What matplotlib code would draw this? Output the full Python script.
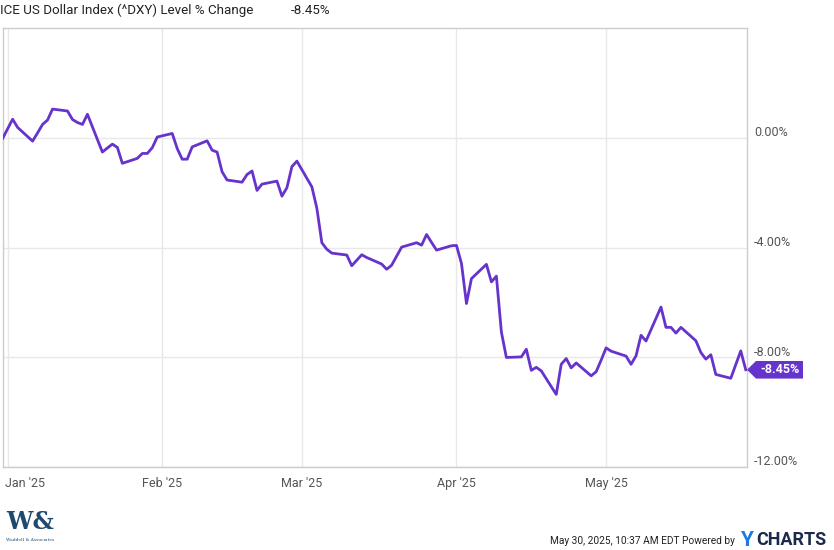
"""
ICE US Dollar Index (^DXY) level % change - YCharts style line chart
"""

#######################################################################################
# Library
import matplotlib
matplotlib.use('Agg')
import matplotlib.pyplot as plt
import matplotlib.dates as mdates
import matplotlib.transforms as mtransforms
import pandas as pd

from matplotlib import font_manager
from matplotlib.patches import Polygon
#######################################################################################

# -------------------------------------------------------------------------------------
# Data
sDates = ['2024-12-31',
          '2025-01-02', '2025-01-03', '2025-01-06', '2025-01-07', '2025-01-08', '2025-01-09',
          '2025-01-10', '2025-01-13', '2025-01-14', '2025-01-15', '2025-01-16', '2025-01-17',
          '2025-01-20', '2025-01-21', '2025-01-22', '2025-01-23', '2025-01-24', '2025-01-27',
          '2025-01-28', '2025-01-29', '2025-01-30', '2025-01-31',
          '2025-02-03', '2025-02-04', '2025-02-05', '2025-02-06', '2025-02-07', '2025-02-10',
          '2025-02-11', '2025-02-12', '2025-02-13', '2025-02-14', '2025-02-17', '2025-02-18',
          '2025-02-19', '2025-02-20', '2025-02-21', '2025-02-24', '2025-02-25', '2025-02-26',
          '2025-02-27', '2025-02-28',
          '2025-03-03', '2025-03-04', '2025-03-05', '2025-03-06', '2025-03-07', '2025-03-10',
          '2025-03-11', '2025-03-12', '2025-03-13', '2025-03-14', '2025-03-17', '2025-03-18',
          '2025-03-19', '2025-03-20', '2025-03-21', '2025-03-24', '2025-03-25', '2025-03-26',
          '2025-03-27', '2025-03-28', '2025-03-31',
          '2025-04-01', '2025-04-02', '2025-04-03', '2025-04-04', '2025-04-07', '2025-04-08',
          '2025-04-09', '2025-04-10', '2025-04-11', '2025-04-14', '2025-04-15', '2025-04-16',
          '2025-04-17', '2025-04-18', '2025-04-21', '2025-04-22', '2025-04-23', '2025-04-24',
          '2025-04-25', '2025-04-28', '2025-04-29', '2025-04-30',
          '2025-05-01', '2025-05-02', '2025-05-05', '2025-05-06', '2025-05-07', '2025-05-08',
          '2025-05-09', '2025-05-12', '2025-05-13', '2025-05-14', '2025-05-15', '2025-05-16',
          '2025-05-19', '2025-05-20', '2025-05-21', '2025-05-22', '2025-05-23', '2025-05-26',
          '2025-05-27', '2025-05-28', '2025-05-29']

a1dValues = [0.00,
             0.70, 0.40, -0.10, 0.20, 0.51, 0.67,
             1.07, 1.00, 0.69, 0.58, 0.51, 0.88,
             -0.50, -0.35, -0.21, -0.33, -0.91, -0.73,
             -0.55, -0.55, -0.34, 0.05,
             0.18, -0.37, -0.76, -0.76, -0.31, -0.09,
             -0.43, -0.50, -1.22, -1.52, -1.60, -1.32,
             -1.19, -1.90, -1.67, -1.56, -2.11, -1.80,
             -1.03, -0.83,
             -1.77, -2.55, -3.81, -4.05, -4.19, -4.26,
             -4.65, -4.45, -4.25, -4.35, -4.59, -4.78,
             -4.63, -4.30, -3.97, -3.81, -3.90, -3.51,
             -3.80, -4.08, -3.92,
             -3.91, -4.57, -6.03, -5.12, -4.60, -5.24,
             -5.03, -7.07, -8.00, -7.98, -7.70, -8.47,
             -8.36, -8.49, -9.35, -8.25, -8.04, -8.38,
             -8.20, -8.67, -8.52, -8.10,
             -7.65, -7.77, -7.95, -8.25, -7.94, -7.19,
             -7.40, -6.16, -6.90, -6.90, -7.11, -6.90,
             -7.39, -7.82, -8.06, -7.90, -8.62, -8.76,
             -8.26, -7.76, -8.45]

sMonthTicks = ['2025-01-01', '2025-02-01', '2025-03-01', '2025-04-01', '2025-05-01']
sMonthLabels = ["Jan '25", "Feb '25", "Mar '25", "Apr '25", "May '25"]
a1dYTicks = [0, -4, -8, -12]
sYLabels = ['0.00%', '-4.00%', '-8.00%', '-12.00%']

sTitle = 'ICE US Dollar Index (^DXY) Level % Change'
sLastValue = '-8.45%'
sFooter = 'May 30, 2025, 10:37 AM EDT Powered by'
# -------------------------------------------------------------------------------------

# -------------------------------------------------------------------------------------
# Style
sColorLine = '#6633cc'
sColorGrid = '#e8e8e8'
sColorSpine = '#cccccc'
sColorTick = '#555555'
sColorText = '#222222'

plt.rcParams['font.family'] = ['Roboto', 'DejaVu Sans']

# Narrow font for footer (fallback to smaller Roboto)
sFontNames = set(oF.name for oF in font_manager.fontManager.ttflist)
if 'Liberation Sans Narrow' in sFontNames:
    oFooterFont = dict(family=['Liberation Sans Narrow', 'DejaVu Sans'], fontsize=9.2)
else:
    oFooterFont = dict(family=['Roboto', 'DejaVu Sans'], fontsize=7.3)
# -------------------------------------------------------------------------------------

# -------------------------------------------------------------------------------------
# Figure and axes
oFig = plt.figure(figsize=(8.34, 5.5), dpi=100)
oAx = oFig.add_axes([2.66 / 834, 83.0 / 550, (747.0 - 2.66) / 834, (467.0 - 28.3) / 550])

a1oDates = pd.to_datetime(sDates)
oAx.plot(a1oDates, a1dValues, color=sColorLine, linewidth=2.0, solid_joinstyle='round',
         zorder=3)

oAx.set_xlim(pd.Timestamp('2024-12-31'), pd.Timestamp('2025-05-29') + pd.Timedelta(hours=6))
oAx.set_ylim(-12, 4.02)

# Grid
oAx.set_xticks(pd.to_datetime(sMonthTicks))
oAx.set_xticklabels(sMonthLabels)
oAx.set_yticks(a1dYTicks)
oAx.set_yticklabels(sYLabels)
oAx.grid(True, color=sColorGrid, linewidth=1.0, zorder=0)
oAx.set_axisbelow(True)

for sSide in ['left', 'right', 'top', 'bottom']:
    oAx.spines[sSide].set_color(sColorSpine)
    oAx.spines[sSide].set_linewidth(1.0)

oAx.yaxis.tick_right()
oAx.tick_params(axis='y', length=0, pad=5, labelsize=9, labelcolor=sColorTick)
oAx.tick_params(axis='x', length=0, pad=7, labelsize=9, labelcolor=sColorTick)

# Shift y labels a bit above their gridline
oOffsetY = mtransforms.ScaledTranslation(0, 5.0 / 72, oFig.dpi_scale_trans)
for oLabel in oAx.get_yticklabels():
    oLabel.set_transform(oLabel.get_transform() + oOffsetY)

# First month label left aligned (as in ycharts)
oFirst = oAx.get_xticklabels()[0]
oFirst.set_horizontalalignment('left')
oFirst.set_transform(oFirst.get_transform() +
                     mtransforms.ScaledTranslation(-2.0 / 72, 0, oFig.dpi_scale_trans))
# -------------------------------------------------------------------------------------

# -------------------------------------------------------------------------------------
# Last value flag
dTipX, dTipY = oAx.transData.transform((mdates.date2num(a1oDates[-1]), a1dValues[-1]))
dTipX = oAx.transAxes.transform((1.0, 0.0))[0]
dH = 8.8
a2dPoly = [(dTipX, dTipY), (dTipX + 9, dTipY + dH), (dTipX + 56, dTipY + dH),
           (dTipX + 56, dTipY - dH), (dTipX + 9, dTipY - dH)]
a2dPoly = [(dX / 834.0, dY / 550.0) for dX, dY in a2dPoly]
oFig.patches.append(Polygon(a2dPoly, closed=True, transform=oFig.transFigure,
                            facecolor=sColorLine, edgecolor='none'))
oFig.text((dTipX + 33) / 834.0, dTipY / 550.0, sLastValue, color='white', fontsize=9,
          fontweight='bold', ha='center', va='center')
# -------------------------------------------------------------------------------------

# -------------------------------------------------------------------------------------
# Title and footer
oFig.text(0.0, 1 - 10.0 / 550, sTitle, fontsize=9.6, color=sColorText, ha='left',
          va='center')
oFig.text(291.0 / 834, 1 - 10.0 / 550, sLastValue, fontsize=9.6, color=sColorText,
          ha='left', va='center')

oFig.text(735.0 / 834, 1 - 541.0 / 550, sFooter, color=sColorText, ha='right',
          va='center', **oFooterFont)
oFig.text(740.0 / 834, 1 - 540.0 / 550, 'Y', fontsize=15, color='#1e7be0',
          fontweight='bold', ha='left', va='center')
oFig.text(756.0 / 834, 1 - 540.0 / 550, 'CHARTS', fontsize=13, color='#1b2a4a',
          fontweight='bold', ha='left', va='center')

# Logo (text approximation)
oFig.text(6.0 / 834, 1 - 522.0 / 550, 'W&', fontsize=17, color='#1d4a6e',
          family='DejaVu Serif', fontweight='bold', ha='left', va='center')
oFig.text(6.0 / 834, 1 - 540.0 / 550, 'Waddell & Associates', fontsize=3.2,
          color='#1d4a6e', family='DejaVu Serif', ha='left', va='center')
# -------------------------------------------------------------------------------------

oFig.savefig('out.png', dpi=100)
